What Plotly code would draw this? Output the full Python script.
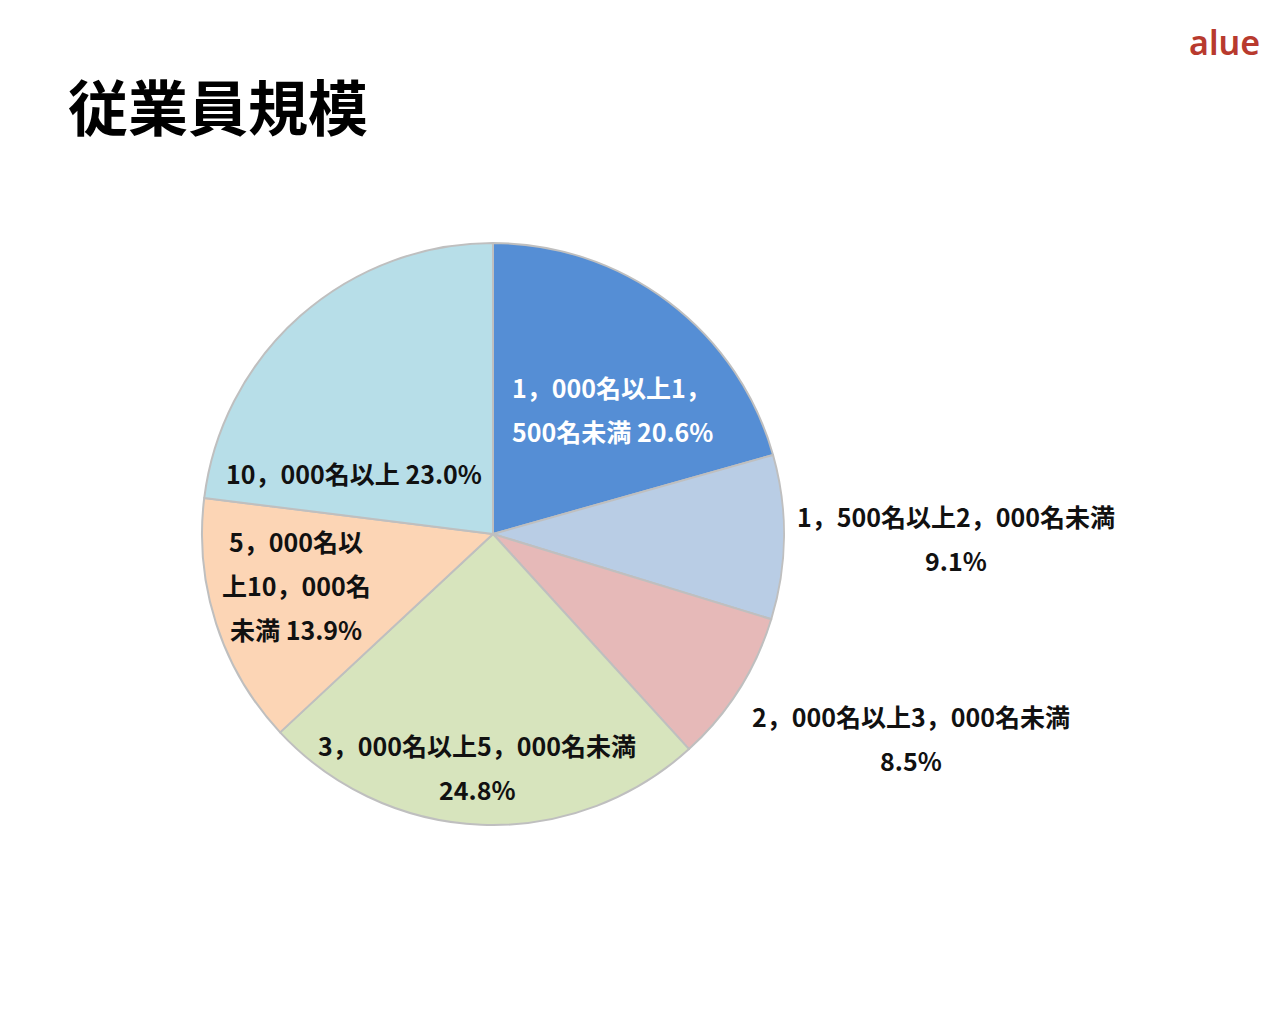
import plotly.graph_objects as go

categories = ["1，000名以上1，500名未満", "1，500名以上2，000名未満", "2，000名以上3，000名未満",
              "3，000名以上5，000名未満", "5，000名以上10，000名未満", "10，000名以上"]
values = [20.6, 9.1, 8.5, 24.8, 13.9, 23.0]
colors = ["#558ED5", "#B9CDE5", "#E6B9B8", "#D7E4BD", "#FCD5B5", "#B7DEE8"]
label_lines = [
    ["1，000名以上1，", "500名未満 20.6%"],
    ["1，500名以上2，000名未満", "9.1%"],
    ["2，000名以上3，000名未満", "8.5%"],
    ["3，000名以上5，000名未満", "24.8%"],
    ["5，000名以", "上10，000名", "未満 13.9%"],
    ["10，000名以上 23.0%"],
]
label_colors = ["white", "#111", "#111", "#111", "#111", "#111"]
# label anchor (pixel center of first line) and alignment
label_pos = [(510, 387, "left"), (956, 516, "center"), (911, 716, "center"),
             (477, 745, "center"), (296, 541, "center"), (354, 473, "center")]

W, H = 1280, 1024
OFF = 8  # page body margin
cx, cy, r = 493 - OFF, 534 - OFF, 291
font_family = "Noto Sans CJK JP"


def px(x):
    return (x - OFF) / W


def py(y):
    return 1 - (y - OFF) / H


fig = go.Figure(go.Pie(
    labels=categories, values=values, sort=False, direction="clockwise", rotation=0,
    marker=dict(colors=colors, line=dict(color="#BFBFBF", width=2)),
    textinfo="none", hoverinfo="label+percent", showlegend=False,
    domain=dict(x=[(cx - r) / W, (cx + r) / W], y=[1 - (cy + r) / H, 1 - (cy - r) / H]),
))

annotations = []
for lines, (lx, ly, align), col in zip(label_lines, label_pos, label_colors):
    for i, ln in enumerate(lines):
        annotations.append(dict(
            x=px(lx), y=py(ly + 44 * i), xref="paper", yref="paper",
            text=ln, showarrow=False, xanchor=align, yanchor="middle",
            font=dict(family=font_family, size=25, color=col, weight=600),
        ))

annotations.append(dict(x=px(66), y=py(104), xref="paper", yref="paper", text="従業員規模",
                        showarrow=False, xanchor="left", yanchor="middle",
                        font=dict(family=font_family, size=60, color="#000", weight="bold")))
annotations.append(dict(x=px(1262), y=py(42), xref="paper", yref="paper", text="alue",
                        showarrow=False, xanchor="right", yanchor="middle",
                        font=dict(family="Noto Sans", size=34, color="#B83A2E", weight=600)))

fig.update_layout(width=W, height=H, margin=dict(l=0, r=0, t=0, b=0),
                  paper_bgcolor="white", plot_bgcolor="white", annotations=annotations)
fig.write_html("out.html")
